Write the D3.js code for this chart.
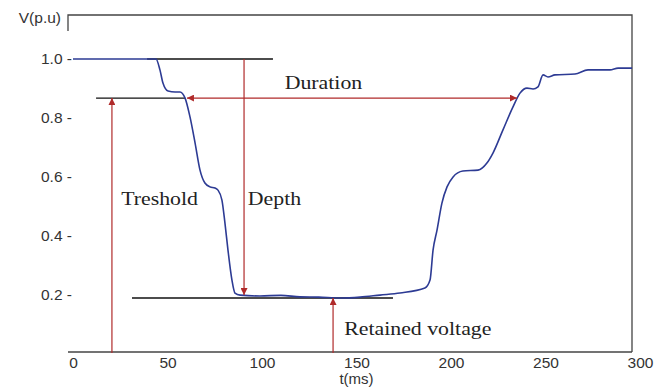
<!DOCTYPE html>
<html lang="en">
<head>
    <meta charset="UTF-8">
    <script src="https://cdnjs.cloudflare.com/ajax/libs/d3/7.8.5/d3.min.js"></script>
    <title>Voltage dip</title>
    <style>
        body { margin: 0; background: #fff; }
        .tick text { font-family: "Liberation Sans", Arial, sans-serif; fill: #333; }
        .note { font-family: "Liberation Serif", "Times New Roman", serif; font-size: 18.5px; fill: #222; }
    </style>
</head>
<body>
<div id="plot"></div>
<script>
    // voltage trace
    var timeMs = [0, 43.9, 46.0, 47.6, 50.3, 54.0, 56.6, 59.3, 61.9, 64.6, 67.2, 69.8, 72.5, 75.1, 76.7, 78.8,
        80.4, 82.0, 84.1, 85.7, 88.4, 98.9, 110, 120.1, 130, 141.3, 151.9, 162.4, 173.0, 186.2, 188.9,
        190.5, 192.6, 195.2, 197.9, 201.1, 206.3, 214.3, 219.0, 222.2, 227.5, 232.8, 236.5, 240.2,
        243.4, 246.0, 248.7, 251.3, 255.0, 265.6, 272.5, 284.1, 288.4, 295.8];
    var voltPu = [1.0, 1.0, 0.963, 0.918, 0.891, 0.888, 0.888, 0.867, 0.803, 0.714, 0.622, 0.578, 0.565, 0.561, 0.554, 0.520,
        0.442, 0.350, 0.248, 0.204, 0.197, 0.194, 0.196, 0.191, 0.190, 0.187, 0.190, 0.197, 0.204, 0.221, 0.248,
        0.350, 0.418, 0.510, 0.565, 0.599, 0.619, 0.622, 0.646, 0.680, 0.759, 0.837, 0.884, 0.901,
        0.898, 0.905, 0.946, 0.939, 0.946, 0.949, 0.963, 0.963, 0.969, 0.969];

    var xTicks = [0, 50, 100, 150, 200, 250, 300];
    var yTicks = [0.2, 0.4, 0.6, 0.8, 1.0];

    // annotation values
    var nominalV = 1.0, nominalFrom = 39.2, nominalTo = 105.8;
    var thresholdV = 0.867, thresholdFrom = 12.2, thresholdTo = 59.3, thresholdT = 20.6;
    var retainedV = 0.187, retainedFrom = 31.2, retainedTo = 169.3, retainedT = 137.6;
    var depthT = 90.5;
    var durationFrom = 60.3, durationTo = 234.9;

    var width = 654, height = 388;
    var frame = { left: 68, right: 632, top: 15, bottom: 352 };

    var svg = d3.select("#plot").append("svg")
        .attr("width", width)
        .attr("height", height);

    var x = d3.scaleLinear().domain([0, 300]).range([73, 640]);
    var y = d3.scaleLinear().domain([0, 1]).range([353, 59]);

    var red = "#b02a2a";
    var defs = svg.append("defs");
    defs.append("marker")
        .attr("id", "head")
        .attr("viewBox", "0 0 10 10")
        .attr("refX", 10).attr("refY", 5)
        .attr("markerWidth", 7).attr("markerHeight", 7)
        .attr("markerUnits", "userSpaceOnUse")
        .attr("orient", "auto-start-reverse")
        .append("path")
        .attr("d", "M0,0L10,5L0,10z")
        .attr("fill", red);

    // frame
    svg.append("path")
        .attr("d", "M" + frame.left + "," + (frame.top + 16) + "V" + frame.top + "H" + frame.right + "V" + frame.bottom)
        .attr("fill", "none").attr("stroke", "#444").attr("stroke-width", 1.3);

    // x axis
    var gx = svg.append("g")
        .attr("transform", "translate(0," + frame.bottom + ")")
        .call(d3.axisBottom(x).tickValues(xTicks).tickSize(0).tickPadding(5).tickFormat(d3.format("d")));
    gx.select(".domain").remove();
    gx.selectAll("text").attr("font-size", 15.5);
    svg.append("line")
        .attr("x1", frame.left).attr("x2", frame.right)
        .attr("y1", frame.bottom).attr("y2", frame.bottom)
        .attr("stroke", "#444").attr("stroke-width", 1.3);
    svg.append("text")
        .attr("x", x(150)).attr("y", 384)
        .attr("text-anchor", "middle")
        .style("font-family", "'Liberation Sans', Arial, sans-serif")
        .style("font-size", "15px").style("fill", "#333")
        .text("t(ms)");

    // y axis
    var gy = svg.append("g")
        .attr("transform", "translate(72,0)")
        .call(d3.axisLeft(y).tickValues(yTicks).tickSize(0).tickPadding(0).tickFormat(function (d) { return d3.format(".1f")(d) + " -"; }));
    gy.select(".domain").remove();
    gy.selectAll("text").attr("font-size", 15.5);
    svg.append("text")
        .attr("x", 61).attr("y", 23)
        .attr("text-anchor", "end")
        .style("font-family", "'Liberation Sans', Arial, sans-serif")
        .style("font-size", "15.5px").style("fill", "#333")
        .text("V(p.u)");

    // black reference lines
    var refs = [[nominalV, nominalFrom, nominalTo], [thresholdV, thresholdFrom, thresholdTo], [retainedV, retainedFrom, retainedTo]];
    svg.append("g").selectAll("line")
        .data(refs)
        .enter()
        .append("line")
        .attr("x1", d => x(d[1])).attr("x2", d => x(d[2]))
        .attr("y1", d => y(d[0])).attr("y2", d => y(d[0]))
        .attr("stroke", "#111").attr("stroke-width", 1.3);

    // curve
    var pts = timeMs.map((t, i) => [t, voltPu[i]]);
    svg.append("path")
        .datum(pts)
        .attr("fill", "none")
        .attr("stroke", "#2d3b94")
        .attr("stroke-width", 1.6)
        .attr("d", d3.line().x(d => x(d[0])).y(d => y(d[1])).curve(d3.curveMonotoneX));

    // red arrows
    var arrows = [
        { x1: thresholdT, y1: 0, x2: thresholdT, y2: thresholdV, start: false },
        { x1: depthT, y1: nominalV, x2: depthT, y2: retainedV + 0.01, start: false },
        { x1: retainedT, y1: 0, x2: retainedT, y2: retainedV, start: false },
        { x1: durationFrom, y1: thresholdV, x2: durationTo, y2: thresholdV, start: true }
    ];
    svg.append("g").selectAll("line")
        .data(arrows)
        .enter()
        .append("line")
        .attr("x1", d => x(d.x1)).attr("y1", d => y(d.y1))
        .attr("x2", d => x(d.x2)).attr("y2", d => y(d.y2))
        .attr("stroke", red).attr("stroke-width", 1.2)
        .attr("marker-end", "url(#head)")
        .attr("marker-start", d => d.start ? "url(#head)" : null);

    // labels (the source text is drawn a little wide)
    var notes = [
        ["Duration", 112, 0.897],
        ["Treshold", 25.5, 0.502],
        ["Depth", 92.5, 0.502],
        ["Retained voltage", 143.5, 0.06]
    ];
    svg.append("g").selectAll("text")
        .data(notes)
        .enter()
        .append("text")
        .attr("class", "note")
        .attr("transform", d => "translate(" + x(d[1]) + "," + y(d[2]) + ") scale(1.18,1)")
        .text(d => d[0]);
</script>
</body>
</html>
